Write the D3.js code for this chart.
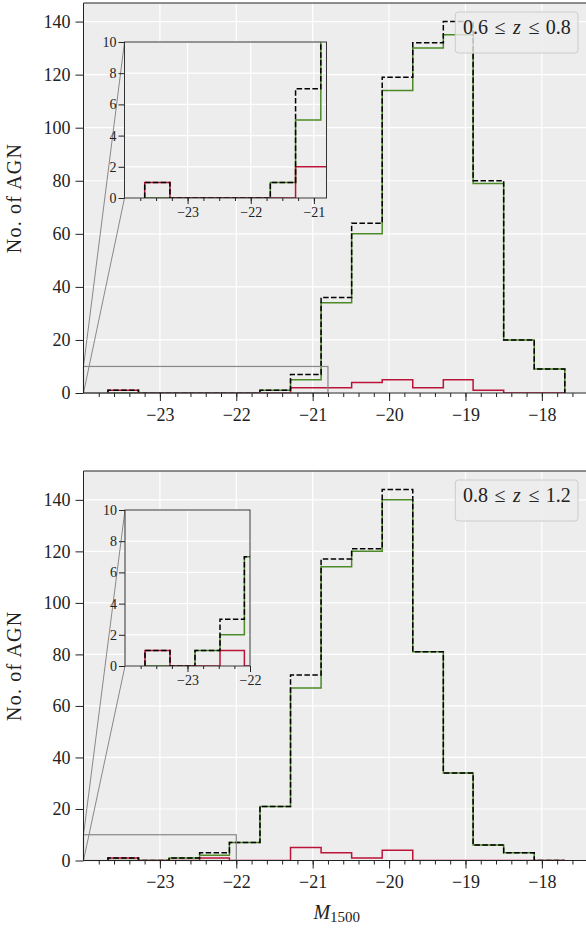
<!DOCTYPE html>
<html>
<head>
<meta charset="utf-8">
<script src="https://cdn.jsdelivr.net/npm/d3@7"></script>
<style>
body { margin: 0; background: #fff; }
svg { display: block; }
text { font-family: "Liberation Serif", "DejaVu Serif", serif; fill: #222; }
</style>
</head>
<body>
<script>
// bin edges in M1500, same for both panels
const binEdges = [-23.68, -23.28, -22.88, -22.48, -22.09, -21.69, -21.29, -20.89,
                  -20.49, -20.09, -19.69, -19.29, -18.90, -18.50, -18.10, -17.70]

// 0.6 <= z <= 0.8
const lowAll   = [1, 0, 0, 0, 0, 1, 7, 36, 64, 119, 132, 140, 80, 20, 9]
const lowGreen = [0, 0, 0, 0, 0, 1, 5, 34, 60, 114, 130, 135, 79, 20, 9]
const lowRed   = [1, 0, 0, 0, 0, 0, 2, 2, 4, 5, 2, 5, 1, 0, 0]

// 0.8 <= z <= 1.2
const highAll   = [1, 0, 1, 3, 7, 21, 72, 117, 121, 144, 81, 34, 6, 3, 0]
const highGreen = [0, 0, 1, 2, 7, 21, 67, 114, 120, 140, 81, 34, 6, 3, 0]
const highRed   = [1, 0, 0, 1, 0, 0, 5, 3, 1, 4, 0, 0, 0, 0, 0]

const xTicks = [-23, -22, -21, -20, -19, -18]
const yTicks = [0, 20, 40, 60, 80, 100, 120, 140]
const insetYTicks = [0, 2, 4, 6, 8, 10]

const width = 586
const height = 929
const green = "#4b8a26"
const red = "#bb1438"
const bg = "#ededed"
const fmt = d3.format("d")

const svg = d3.select("body")
    .append("svg")
    .attr("width", width)
    .attr("height", height)

function stepPoints(values) {
    const pts = [[binEdges[0], 0]]
    values.forEach((v, i) => {
        pts.push([binEdges[i], v])
        pts.push([binEdges[i + 1], v])
    })
    pts.push([binEdges[binEdges.length - 1], 0])
    return pts
}

function drawHists(g, x, y, p, clipId) {
    const line = d3.line().x(d => x(d[0])).y(d => y(d[1]))
    const h = g.append("g").attr("clip-path", `url(#${clipId})`)
    h.append("path")
        .attr("d", line(stepPoints(p.green)))
        .attr("fill", "none").attr("stroke", green).attr("stroke-width", 1.5)
    h.append("path")
        .attr("d", line(stepPoints(p.red)))
        .attr("fill", "none").attr("stroke", red).attr("stroke-width", 1.5)
    h.append("path")
        .attr("d", line(stepPoints(p.all)))
        .attr("fill", "none").attr("stroke", "#000").attr("stroke-width", 1.5)
        .attr("stroke-dasharray", "5.5,2.4")
}

function grid(g, x, y, xt, yt) {
    const [x0, x1] = x.range()
    const [y0, y1] = y.range()
    g.append("g").selectAll("line").data(xt).enter().append("line")
        .attr("x1", d => x(d)).attr("x2", d => x(d))
        .attr("y1", y0).attr("y2", y1)
        .attr("stroke", "#fff").attr("stroke-width", 1.2)
    g.append("g").selectAll("line").data(yt).enter().append("line")
        .attr("x1", x0).attr("x2", x1)
        .attr("y1", d => y(d)).attr("y2", d => y(d))
        .attr("stroke", "#fff").attr("stroke-width", 1.2)
}

function styleAxis(a, size) {
    a.attr("font-family", null).attr("font-size", size)
    a.select(".domain").remove()
    a.selectAll(".tick line").attr("stroke", "#222")
}

function drawPanel(p) {
    const x = d3.scaleLinear().domain([-24, -17.37]).range([83.5, 590])
    const y = d3.scaleLinear().domain([0, p.yMax]).range([p.bottom, p.top])
    const g = svg.append("g")

    svg.append("clipPath").attr("id", p.id + "main")
        .append("rect")
        .attr("x", 83.5).attr("y", p.top)
        .attr("width", 590 - 83.5).attr("height", p.bottom - p.top)

    g.append("rect")
        .attr("x", 83.5).attr("y", p.top)
        .attr("width", 590 - 83.5).attr("height", p.bottom - p.top)
        .attr("fill", bg)
    grid(g, x, y, xTicks, yTicks)
    drawHists(g, x, y, p, p.id + "main")

    // zoom indicator and connectors
    const zx0 = x(-24), zx1 = x(p.insetDomain[1]), zy0 = y(0), zy1 = y(10)
    g.append("rect")
        .attr("x", zx0).attr("y", zy1)
        .attr("width", zx1 - zx0).attr("height", zy0 - zy1)
        .attr("fill", "none").attr("stroke", "#888").attr("stroke-width", 1.2)
    g.append("line")
        .attr("x1", p.inset.left).attr("y1", p.inset.top)
        .attr("x2", zx0).attr("y2", zy1)
        .attr("stroke", "#888").attr("stroke-width", 1)
    g.append("line")
        .attr("x1", p.inset.left).attr("y1", p.inset.bottom)
        .attr("x2", zx0).attr("y2", zy0)
        .attr("stroke", "#888").attr("stroke-width", 1)

    // spines
    g.append("path")
        .attr("d", `M590,${p.top}H83.5V${p.bottom}H590`)
        .attr("fill", "none").attr("stroke", "#222").attr("stroke-width", 1)

    const xa = g.append("g").attr("transform", `translate(0,${p.bottom})`)
        .call(d3.axisBottom(x).tickValues(xTicks).tickSize(8).tickPadding(7).tickSizeOuter(0).tickFormat(fmt))
    styleAxis(xa, 18)
    const xm = g.append("g").attr("transform", `translate(0,${p.bottom})`)
        .call(d3.axisBottom(x).tickValues(d3.range(-23.8, -17.39, 0.2)).tickSize(4).tickFormat(""))
    styleAxis(xm, 18)
    const ya = g.append("g").attr("transform", "translate(83.5,0)")
        .call(d3.axisLeft(y).tickValues(yTicks).tickSize(8).tickPadding(5).tickFormat(fmt))
    styleAxis(ya, 18)

    g.append("text")
        .attr("transform", `translate(21,${(p.top + p.bottom) / 2}) rotate(-90)`)
        .attr("text-anchor", "middle")
        .attr("font-size", 20)
        .attr("letter-spacing", 1.2)
        .text("No. of AGN")

    // inset
    const ins = p.inset
    const ix = d3.scaleLinear().domain(p.insetDomain).range([ins.left, ins.right])
    const iy = d3.scaleLinear().domain([0, 10]).range([ins.bottom, ins.top])
    const ig = svg.append("g")
    svg.append("clipPath").attr("id", p.id + "inset")
        .append("rect")
        .attr("x", ins.left).attr("y", ins.top)
        .attr("width", ins.right - ins.left).attr("height", ins.bottom - ins.top)
    ig.append("rect")
        .attr("x", ins.left).attr("y", ins.top)
        .attr("width", ins.right - ins.left).attr("height", ins.bottom - ins.top)
        .attr("fill", bg)
    const ixTicks = xTicks.filter(t => t >= p.insetDomain[0] && t <= p.insetDomain[1])
    grid(ig, ix, iy, ixTicks, insetYTicks)
    drawHists(ig, ix, iy, p, p.id + "inset")
    ig.append("rect")
        .attr("x", ins.left).attr("y", ins.top)
        .attr("width", ins.right - ins.left).attr("height", ins.bottom - ins.top)
        .attr("fill", "none").attr("stroke", "#333").attr("stroke-width", 1)

    const ixa = ig.append("g").attr("transform", `translate(0,${ins.bottom})`)
        .call(d3.axisBottom(ix).tickValues(ixTicks).tickSize(6).tickPadding(3).tickSizeOuter(0).tickFormat(fmt))
    styleAxis(ixa, 14)
    const ixm = ig.append("g").attr("transform", `translate(0,${ins.bottom})`)
        .call(d3.axisBottom(ix).tickValues(d3.range(-23.75, p.insetDomain[1], 0.25)).tickSize(3).tickFormat(""))
    styleAxis(ixm, 14)
    const iya = ig.append("g").attr("transform", `translate(${ins.left},0)`)
        .call(d3.axisLeft(iy).tickValues(insetYTicks).tickSize(6).tickPadding(2).tickFormat(fmt))
    styleAxis(iya, 14)

    // legend
    const lg = svg.append("g").attr("transform", `translate(455.3,${p.top + 9})`)
    lg.append("rect")
        .attr("width", 122.7).attr("height", 41)
        .attr("rx", 3)
        .attr("fill", "#ececec").attr("fill-opacity", 0.8)
        .attr("stroke", "#cccccc").attr("stroke-width", 1)
    const parts = [
        { t: p.zRange[0], dx: 20.2, italic: false },
        { t: "≤", dx: 44.7, italic: false },
        { t: "z", dx: 61.5, italic: true },
        { t: "≤", dx: 78.7, italic: false },
        { t: p.zRange[1], dx: 103, italic: false }
    ]
    lg.selectAll("text").data(parts).enter().append("text")
        .attr("x", d => d.dx).attr("y", 22)
        .attr("text-anchor", "middle")
        .attr("font-size", 20)
        .attr("font-style", d => d.italic ? "italic" : null)
        .text(d => d.t)
}

drawPanel({
    id: "low", all: lowAll, green: lowGreen, red: lowRed,
    top: 3, bottom: 393, yMax: 147,
    inset: { left: 124.5, right: 326.5, top: 42, bottom: 198 },
    insetDomain: [-24, -20.8],
    zRange: ["0.6", "0.8"]
})

drawPanel({
    id: "high", all: highAll, green: highGreen, red: highRed,
    top: 471, bottom: 860.5, yMax: 151.2,
    inset: { left: 125, right: 250, top: 510, bottom: 666 },
    insetDomain: [-24, -22],
    zRange: ["0.8", "1.2"]
})

const xl = svg.append("text")
    .attr("x", 336.75).attr("y", 918.5)
    .attr("text-anchor", "middle")
    .attr("font-size", 20)
xl.append("tspan").attr("font-style", "italic").text("M")
xl.append("tspan").attr("font-size", 15).attr("dy", 3).text("1500")
</script>
</body>
</html>
